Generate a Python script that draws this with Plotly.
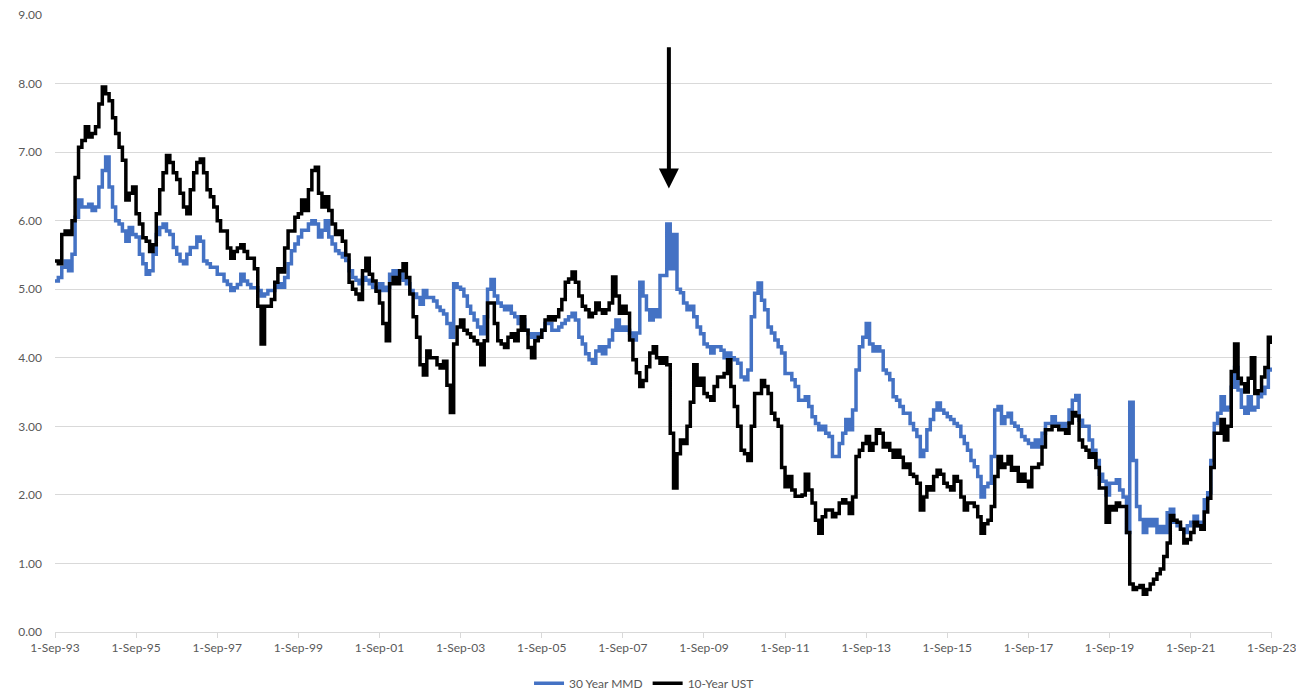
import pandas as pd
import plotly.graph_objects as go

# Monthly readings, Sep 1993 .. Sep 2023 (rows run Sep..Aug)
ust_10y = [
    5.41, 5.37, 5.8, 5.85, 5.8, 6.0, 6.63, 7.07, 7.17, 7.37, 7.22, 7.27,
    7.37, 7.7, 7.95, 7.85, 7.75, 7.5, 7.27, 7.07, 6.88, 6.3, 6.4, 6.49,
    6.1, 5.95, 5.75, 5.7, 5.55, 5.65, 6.1, 6.45, 6.7, 6.95, 6.85, 6.7,
    6.6, 6.4, 6.2, 6.1, 6.45, 6.7, 6.85, 6.9, 6.7, 6.45, 6.35, 6.2,
    6.0, 5.85, 5.85, 5.6, 5.45, 5.55, 5.6, 5.65, 5.55, 5.45, 5.45, 5.3,
    4.75, 4.2, 4.75, 4.75, 4.85, 5.1, 5.3, 5.25, 5.6, 5.85, 5.85, 6.05,
    6.1, 6.3, 6.15, 6.45, 6.73, 6.78, 6.4, 6.2, 6.35, 6.15, 5.95, 5.8,
    5.85, 5.7, 5.5, 5.1, 5.0, 4.93, 4.85, 5.27, 5.45, 5.22, 5.12, 4.97,
    4.8, 4.5, 4.25, 5.08, 5.17, 5.08, 5.27, 5.37, 5.17, 4.93, 4.6, 4.3,
    3.9, 3.75, 4.1, 4.0, 4.0, 3.9, 3.85, 3.95, 3.6, 3.2, 4.2, 4.45,
    4.55, 4.4, 4.35, 4.3, 4.25, 4.2, 3.9, 4.25, 4.8, 4.8, 4.5, 4.25,
    4.2, 4.15, 4.3, 4.35, 4.25, 4.4, 4.6, 4.4, 4.15, 4.0, 4.25, 4.3,
    4.4, 4.55, 4.6, 4.55, 4.6, 4.7, 4.85, 5.1, 5.15, 5.25, 5.1, 4.9,
    4.75, 4.7, 4.6, 4.65, 4.8, 4.7, 4.65, 4.7, 4.8, 5.18, 4.9, 4.65,
    4.75, 4.65, 4.26, 3.97, 3.78, 3.58, 3.67, 3.87, 4.07, 4.16, 4.0, 3.92,
    4.0, 3.9, 2.9, 2.1, 2.6, 2.8, 2.75, 3.0, 3.35, 3.9, 3.6, 3.7,
    3.48, 3.43, 3.38, 3.58, 3.72, 3.72, 3.77, 3.97, 3.58, 3.29, 3.0, 2.65,
    2.6, 2.5, 3.0, 3.48, 3.48, 3.67, 3.58, 3.48, 3.19, 3.1, 3.0, 2.4,
    2.12, 2.27, 2.07, 1.98, 1.98, 2.0, 2.3, 2.07, 1.88, 1.63, 1.44, 1.68,
    1.78, 1.78, 1.68, 1.73, 1.88, 1.93, 1.88, 1.73, 1.97, 2.56, 2.65, 2.75,
    2.85, 2.65, 2.75, 2.95, 2.9, 2.7, 2.75, 2.65, 2.55, 2.65, 2.55, 2.4,
    2.45, 2.3, 2.27, 2.17, 1.78, 1.97, 2.12, 2.07, 2.27, 2.36, 2.3, 2.17,
    2.12, 2.07, 2.27, 2.2, 1.97, 1.78, 1.88, 1.88, 1.83, 1.68, 1.44, 1.58,
    1.63, 1.83, 2.27, 2.56, 2.4, 2.45, 2.56, 2.36, 2.4, 2.2, 2.3, 2.2,
    2.12, 2.4, 2.4, 2.45, 2.7, 2.95, 2.95, 3.0, 3.0, 2.95, 2.95, 2.9,
    3.05, 3.2, 3.15, 2.8, 2.7, 2.65, 2.55, 2.6, 2.4, 2.1, 2.1, 1.6,
    1.83, 1.78, 1.88, 1.83, 1.83, 1.45, 0.7, 0.62, 0.65, 0.68, 0.55, 0.62,
    0.7, 0.77, 0.85, 0.92, 1.1, 1.3, 1.7, 1.63, 1.6, 1.5, 1.3, 1.35,
    1.45, 1.6, 1.55, 1.5, 1.75, 1.95, 2.4, 2.9, 2.9, 3.1, 2.8, 3.0,
    3.8, 4.2, 3.7, 3.62, 3.5, 3.7, 4.0, 3.48, 3.52, 3.72, 3.86, 4.3,
    4.2,
]

mmd_30y = [
    5.12, 5.17, 5.32, 5.41, 5.27, 5.51, 6.05, 6.3, 6.2, 6.2, 6.24, 6.15,
    6.2, 6.49, 6.73, 6.93, 6.49, 6.2, 6.0, 5.95, 5.85, 5.7, 5.9, 5.8,
    5.76, 5.51, 5.37, 5.22, 5.27, 5.51, 5.8, 5.9, 5.95, 5.85, 5.8, 5.61,
    5.51, 5.41, 5.37, 5.51, 5.61, 5.61, 5.76, 5.7, 5.41, 5.37, 5.32, 5.32,
    5.22, 5.22, 5.12, 5.07, 4.98, 5.02, 5.07, 5.22, 5.12, 5.07, 5.02, 5.02,
    4.98, 4.9, 4.93, 4.98, 4.98, 5.03, 5.08, 5.03, 5.17, 5.37, 5.56, 5.66,
    5.76, 5.86, 5.86, 5.95, 6.0, 5.95, 5.76, 5.86, 6.0, 5.76, 5.66, 5.56,
    5.52, 5.47, 5.42, 5.27, 5.17, 5.13, 5.08, 5.17, 5.13, 5.08, 5.03, 4.98,
    5.08, 4.98, 5.03, 5.22, 5.27, 5.17, 5.27, 5.13, 5.08, 4.98, 4.93, 4.88,
    4.78, 4.98, 4.88, 4.88, 4.83, 4.74, 4.69, 4.64, 4.5, 4.3, 5.08, 5.03,
    5.0, 4.9, 4.75, 4.65, 4.55, 4.45, 4.35, 4.6, 5.0, 5.14, 4.9, 4.8,
    4.75, 4.7, 4.75, 4.65, 4.6, 4.5, 4.55, 4.4, 4.35, 4.3, 4.35, 4.3,
    4.4, 4.5, 4.5, 4.4, 4.4, 4.45, 4.5, 4.55, 4.6, 4.65, 4.55, 4.3,
    4.2, 4.06, 3.97, 3.92, 4.1, 4.16, 4.06, 4.16, 4.26, 4.4, 4.55, 4.4,
    4.45, 4.4, 4.36, 4.26, 4.36, 5.1, 4.9, 4.7, 4.55, 4.7, 4.6, 5.2,
    5.2, 5.95, 5.3, 5.8, 5.0, 4.95, 4.8, 4.7, 4.75, 4.6, 4.45, 4.35,
    4.2, 4.16, 4.07, 4.16, 4.16, 4.11, 4.0, 4.07, 4.0, 3.97, 3.92, 3.72,
    3.68, 3.82, 4.6, 4.94, 5.09, 4.84, 4.7, 4.45, 4.36, 4.26, 4.16, 4.07,
    3.77, 3.77, 3.68, 3.58, 3.38, 3.38, 3.43, 3.29, 3.14, 3.04, 2.95, 3.0,
    2.9, 2.85, 2.56, 2.56, 2.75, 2.9, 3.1, 2.95, 3.24, 3.82, 4.16, 4.3,
    4.5, 4.2, 4.1, 4.16, 4.1, 3.82, 3.77, 3.68, 3.43, 3.38, 3.29, 3.19,
    3.19, 3.04, 2.95, 2.85, 2.56, 2.65, 2.95, 3.1, 3.24, 3.34, 3.24, 3.19,
    3.14, 3.1, 3.04, 3.0, 2.85, 2.75, 2.65, 2.5, 2.41, 2.27, 1.97, 2.12,
    2.17, 2.56, 3.24, 3.29, 3.04, 3.14, 3.19, 3.05, 3.0, 2.95, 2.85, 2.8,
    2.75, 2.7, 2.8, 2.7, 2.9, 3.04, 3.04, 3.14, 3.04, 3.04, 3.0, 3.04,
    3.24, 3.38, 3.45, 3.09, 3.0, 3.0, 2.8, 2.65, 2.5, 2.3, 2.2, 2.0,
    2.17, 2.17, 2.22, 2.07, 1.97, 1.45, 3.35, 2.5, 1.83, 1.64, 1.45, 1.64,
    1.55, 1.64, 1.45, 1.54, 1.45, 1.74, 1.79, 1.6, 1.55, 1.5, 1.45, 1.55,
    1.6, 1.69, 1.55, 1.6, 1.93, 2.03, 2.5, 3.04, 3.19, 3.43, 3.24, 3.28,
    3.57, 3.86, 3.53, 3.28, 3.19, 3.43, 3.24, 3.28, 3.43, 3.48, 3.57, 3.82,
    3.86,
]

dates = pd.date_range("1993-09-01", periods=len(ust_10y), freq="MS")

tick_dates = pd.date_range("1993-09-01", "2023-09-01", freq="24MS")
tick_labels = ["1-Sep-%s" % d.strftime("%y") for d in tick_dates]

arrow_date = "2008-10-20"
arrow_head_y = 6.47
arrow_tail_y = 8.55

BLUE = "#4472C4"
GRID = "#D9D9D9"
TXT = "#595959"
FONT = "Lato, 'Liberation Sans', sans-serif"

fig = go.Figure()
fig.add_trace(go.Scatter(x=dates, y=mmd_30y, mode="lines", name="30 Year MMD",
                         line=dict(color=BLUE, width=3.5, shape="hv")))
fig.add_trace(go.Scatter(x=dates, y=ust_10y, mode="lines", name="10-Year UST",
                         line=dict(color="#000000", width=3.5, shape="hv")))

fig.add_annotation(x=arrow_date, y=arrow_head_y, ax=arrow_date, ay=arrow_tail_y,
                   xref="x", yref="y", axref="x", ayref="y", text="",
                   showarrow=True, arrowhead=2, arrowsize=1, arrowwidth=4,
                   arrowcolor="#000000")

fig.update_layout(
    width=1296, height=699,
    margin=dict(l=55, r=24, t=15, b=67, autoexpand=False),
    paper_bgcolor="white", plot_bgcolor="white",
    font=dict(family=FONT, size=12, color=TXT),
    showlegend=True,
    legend=dict(orientation="h", x=0.484, xanchor="center", y=-0.083,
                yanchor="middle", font=dict(size=12, color=TXT),
                bgcolor="rgba(0,0,0,0)"),
)
fig.update_xaxes(type="date", range=["1993-09-01", "2023-09-03"],
                 tickvals=tick_dates, ticktext=tick_labels,
                 ticklabeloverflow="allow",
                 showgrid=False, showline=True, linecolor=GRID, linewidth=1,
                 ticks="outside", ticklen=5, tickcolor=GRID,
                 tickfont=dict(size=12, color=TXT), zeroline=False)
fig.update_yaxes(range=[0, 9], dtick=1, tickformat=".2f", showgrid=True,
                 gridcolor=GRID, gridwidth=1, zeroline=False, showline=False,
                 ticks="", ticklabelstandoff=12,
                 tickfont=dict(size=12, color=TXT))

fig.write_html("out.html")
